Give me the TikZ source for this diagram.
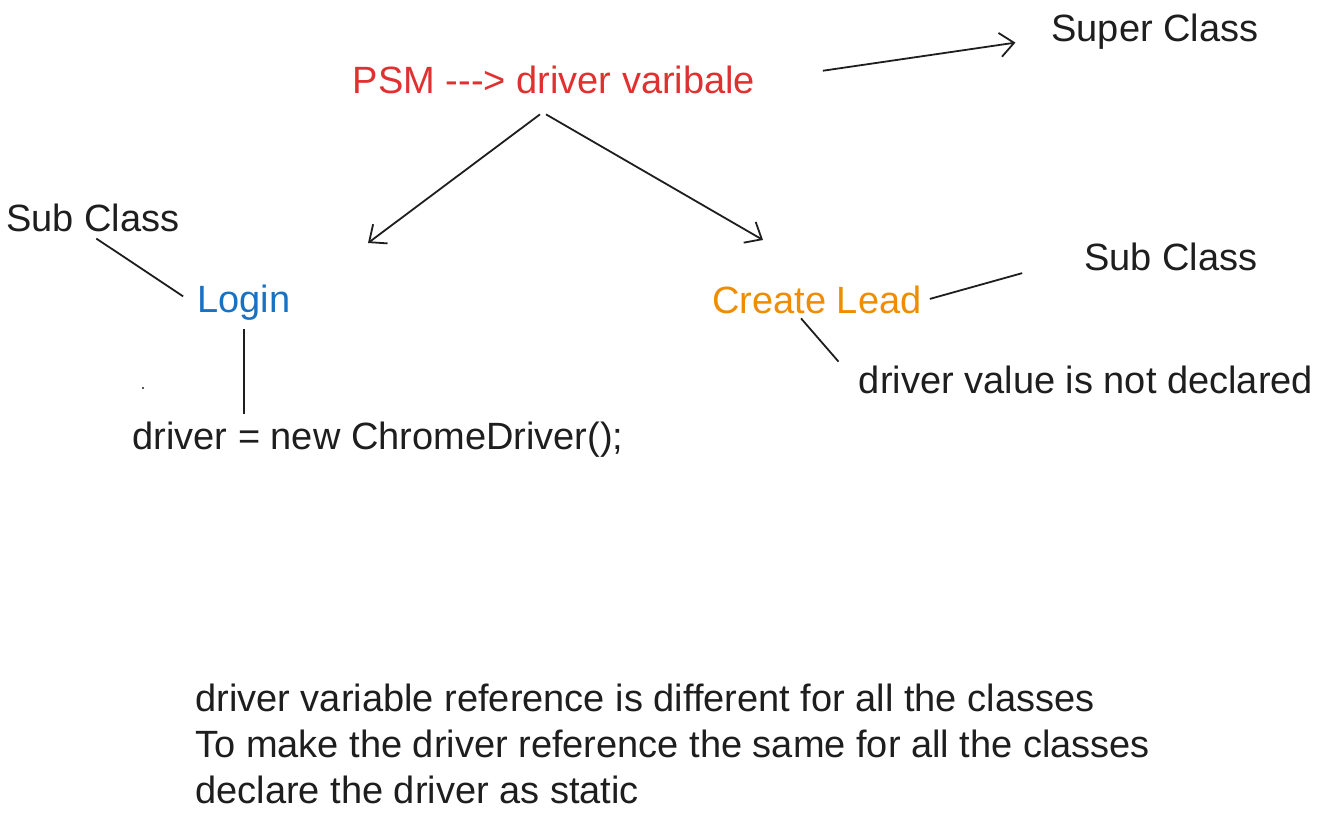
\documentclass[tikz,border=0pt]{standalone}
\usepackage{fontspec}
\setmainfont{Liberation Sans}
\usepackage{tikz}
\usetikzlibrary{arrows.meta}
\definecolor{inkblack}{HTML}{1E1E1E}
\definecolor{inkred}{HTML}{E03131}
\definecolor{inkblue}{HTML}{1971C2}
\definecolor{inkorange}{HTML}{F08C00}
\tikzstyle{arrow} = [line width=0.9pt, draw=inkblack, -{Straight Barb[length=7pt,width=12pt]}]
\tikzstyle{link} = [line width=0.9pt, draw=inkblack]
\tikzstyle{note} = [text=inkblack, inner sep=2pt, font=\fontsize{19}{23}\selectfont]

\begin{document}
\begin{tikzpicture}[x=0.5pt, y=-0.5pt]
      \useasboundingbox (0,0) rectangle (1333,823);
      \node (psm) [note, text=inkred] at (554,80) { PSM -{}-{}-> driver varibale };
      \node (super) [note] at (1155,32) { Super Class };
      \node (subl) [note] at (93,218) { Sub Class };
      \node (login) [note, text=inkblue] at (244,303) { Login };
      \node (chrome) [note] at (378,440) { driver = new ChromeDriver(); };
      \node (lead) [note, text=inkorange] at (817,300) { Create Lead };
      \node (subr) [note] at (1171,257) { Sub Class };
      \node (undecl) [note] at (1086,380) { driver value is not declared };
      \node (summary) [note, align=left, anchor=north west, inner sep=0pt] at (195,684)
            { driver variable reference is different for all the classes\\
              To make the driver reference the same for all the classes\\
              declare the driver as static };
      \coordinate (ltip) at (368,243);
      \coordinate (rtip) at (763,240);
      \fill [inkblack] (143,388) circle (1.2);

      \draw [arrow] ([xshift=-7pt,yshift=-8pt]psm.south) -- (ltip);
      \draw [arrow] ([xshift=-4pt,yshift=-8pt]psm.south) -- (rtip);
      \draw [arrow, shorten <=32pt, shorten >=16pt] (psm.east) -- ([yshift=-3pt]super.west);
      \draw [link, shorten <=2pt, shorten >=6pt] (subl.south) -- (login.west);
      \draw [link, shorten <=2pt, shorten >=2pt] (login.south) -- (login.south |- chrome.north);
      \draw [link, shorten <=2pt, shorten >=30pt] (lead.east) -- (subr.west);
      \draw [link] ([xshift=-8pt]lead.south) -- ([xshift=-8pt]undecl.north west);
    \end{tikzpicture}
\end{document}
